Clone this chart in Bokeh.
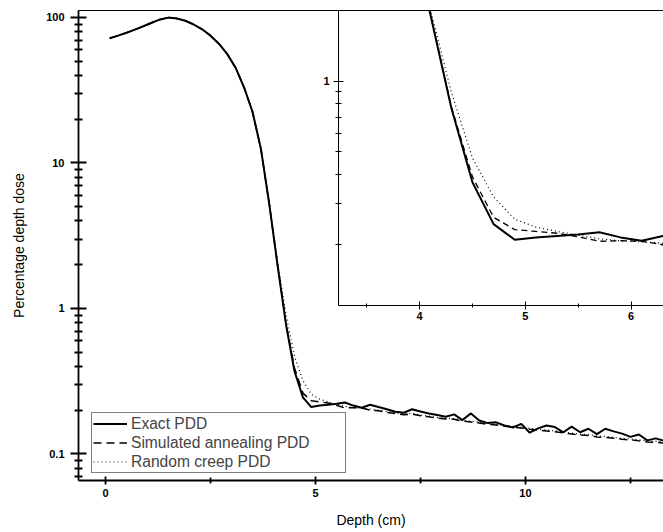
from bokeh.plotting import figure
from bokeh.models import FixedTicker, LinearAxis, Legend, LegendItem, Range1d
from bokeh.layouts import column
from bokeh.embed import file_html
from bokeh.resources import INLINE

# ---------------- data ----------------
depth = [0.1, 0.3, 0.5, 0.7, 0.9, 1.1, 1.3, 1.5, 1.7, 1.9,
         2.1, 2.3, 2.5, 2.7, 2.9, 3.1, 3.3, 3.5, 3.7, 3.9,
         4.1, 4.3, 4.5, 4.7, 4.9, 5.1, 5.3, 5.5, 5.7, 5.9,
         6.1, 6.3, 6.5, 6.7, 6.9, 7.1, 7.3, 7.5, 7.7, 7.9,
         8.1, 8.3, 8.5, 8.7, 8.9, 9.1, 9.3, 9.5, 9.7, 9.9,
         10.1, 10.3, 10.5, 10.7, 10.9, 11.1, 11.3, 11.5, 11.7, 11.9,
         12.1, 12.3, 12.5, 12.7, 12.9, 13.1, 13.3]

exact_pdd = [72, 75, 78.5, 82.5, 87, 92, 97, 99.8, 98.5, 95,
             89.5, 83, 75, 66, 56, 45, 33, 22.5, 12.5, 5.2,
             1.95, 0.77, 0.37, 0.245, 0.21, 0.215, 0.218, 0.221, 0.226, 0.215,
             0.208, 0.218, 0.21, 0.203, 0.195, 0.192, 0.203, 0.196, 0.19, 0.185,
             0.18, 0.187, 0.171, 0.19, 0.17, 0.163, 0.165, 0.157, 0.152, 0.161,
             0.14, 0.15, 0.157, 0.153, 0.141, 0.154, 0.141, 0.149, 0.137, 0.149,
             0.143, 0.138, 0.131, 0.136, 0.124, 0.128, 0.123]

annealing_pdd = [72, 75, 78.5, 82.5, 87, 92, 97, 99.8, 98.5, 95,
                 89.5, 83, 75, 66, 56, 45, 33, 22.5, 12.5, 5.2,
                 1.97, 0.78, 0.39, 0.262, 0.232, 0.228, 0.224, 0.216, 0.207, 0.208,
                 0.207, 0.2, 0.198, 0.193, 0.19, 0.186, 0.188, 0.183, 0.18, 0.176,
                 0.174, 0.173, 0.168, 0.166, 0.163, 0.16, 0.158, 0.155, 0.153, 0.151,
                 0.148, 0.146, 0.144, 0.142, 0.14, 0.137, 0.135, 0.134, 0.131, 0.13,
                 0.128, 0.126, 0.125, 0.123, 0.121, 0.12, 0.119]

creep_pdd = [72, 75, 78.5, 82.5, 87, 92, 97, 99.8, 98.5, 95,
             89.5, 83, 75, 66, 56, 45, 33, 22.5, 12.8, 5.4,
             2.05, 0.9, 0.47, 0.32, 0.257, 0.238, 0.228, 0.22, 0.212, 0.208,
             0.206, 0.203, 0.2, 0.196, 0.192, 0.189, 0.19, 0.185, 0.182, 0.178,
             0.176, 0.175, 0.17, 0.168, 0.165, 0.162, 0.16, 0.157, 0.155, 0.153,
             0.15, 0.148, 0.146, 0.144, 0.142, 0.139, 0.137, 0.136, 0.133, 0.132,
             0.13, 0.128, 0.127, 0.125, 0.123, 0.122, 0.121]

main_x_ticks = [0, 5, 10]
main_x_minor = [2.5, 7.5, 12.5]
main_y_ticks = [0.1, 1, 10, 100]
main_y_labels = ["0.1", "1", "10", "100"]
main_y_minor = [0.07, 0.08, 0.09, 0.2, 0.3, 0.4, 0.5, 0.6, 0.7, 0.8, 0.9,
                2, 3, 4, 5, 6, 7, 8, 9, 20, 30, 40, 50, 60, 70, 80, 90]
inset_x_ticks = [4, 5, 6]
inset_x_minor = [3.5, 4.5, 5.5]
inset_y_ticks = [1]
inset_y_minor = [0.2, 0.3, 0.4, 0.5, 0.6, 0.7, 0.8, 0.9, 2]

series_labels = ["Exact PDD", "Simulated annealing PDD", "Random creep PDD"]

FONT = "Liberation Sans"


def style_axis(ax, tick_in, tick_out, minor_in, minor_out, width):
    ax.axis_line_color = "black"
    ax.axis_line_width = width
    ax.major_tick_line_color = "black"
    ax.minor_tick_line_color = "black"
    ax.major_tick_line_width = width
    ax.minor_tick_line_width = width
    ax.major_tick_in = tick_in
    ax.major_tick_out = tick_out
    ax.minor_tick_in = minor_in
    ax.minor_tick_out = minor_out
    ax.major_label_text_font = FONT
    ax.major_label_text_font_style = "bold"
    ax.major_label_text_font_size = "11px"
    ax.major_label_text_color = "black"
    ax.axis_label_text_font = FONT
    ax.axis_label_text_font_style = "normal"
    ax.axis_label_text_font_size = "14px"
    ax.axis_label_text_color = "black"


def add_top_line(fig, width):
    top = LinearAxis(ticker=FixedTicker(ticks=[]), major_tick_out=0, major_tick_in=0,
                     minor_tick_out=0, minor_tick_in=0,
                     major_label_text_font_size="0px", axis_line_width=width,
                     axis_line_color="black")
    fig.add_layout(top, "above")


# ---------------- main plot ----------------
p = figure(width=655, height=524, title=None,
           x_range=Range1d(-0.643, 13.286), y_range=Range1d(0.0657, 111.7),
           y_axis_type="log", output_backend="svg", toolbar_location=None,
           min_border_left=70, min_border_right=0, min_border_top=2, min_border_bottom=52,
           margin=(8, 0, 0, 8))
p.xgrid.visible = False
p.ygrid.visible = False
p.outline_line_color = None
p.background_fill_color = "white"
p.border_fill_color = "white"

r1 = p.line(depth, exact_pdd, line_color="black", line_width=2)
r2 = p.line(depth, annealing_pdd, line_color="black", line_width=1.5, line_dash="8 5")
r3 = p.line(depth, creep_pdd, line_color="black", line_width=1.2, line_dash="1 3")

p.xaxis.ticker = FixedTicker(ticks=main_x_ticks, minor_ticks=main_x_minor)
p.yaxis.ticker = FixedTicker(ticks=main_y_ticks, minor_ticks=main_y_minor)
p.yaxis.major_label_overrides = {v: s for v, s in zip(main_y_ticks, main_y_labels)}
p.xaxis.axis_label = "Depth (cm)"
p.yaxis.axis_label = "Percentage depth dose"
style_axis(p.xaxis[0], 4, 4, 3, 3, 1.8)
style_axis(p.yaxis[0], 8, 8, 4, 4, 1.8)
p.xaxis.major_label_standoff = 4
p.yaxis.major_label_standoff = 6
p.xaxis.axis_label_standoff = 12
p.yaxis.axis_label_standoff = 16
add_top_line(p, 1)

legend = Legend(items=[LegendItem(label=series_labels[0], renderers=[r1]),
                       LegendItem(label=series_labels[1], renderers=[r2]),
                       LegendItem(label=series_labels[2], renderers=[r3])],
                location=(13, 7), padding=1, spacing=0, margin=0,
                glyph_width=34, glyph_height=19, label_height=19,
                label_standoff=4, label_width=213,
                label_text_font=FONT, label_text_font_size="15.6px",
                border_line_color="black", border_line_width=1,
                background_fill_color="white", background_fill_alpha=1)
p.add_layout(legend, "center")

# ---------------- inset ----------------
q = figure(width=395, height=319, title=None,
           x_range=Range1d(3.234, 6.306), y_range=Range1d(0.110, 2.005),
           y_axis_type="log", output_backend="svg", toolbar_location=None,
           min_border_left=70, min_border_right=0, min_border_top=2, min_border_bottom=22,
           margin=(-524, 0, 205, 268))
q.xgrid.visible = False
q.ygrid.visible = False
q.outline_line_color = None
q.background_fill_color = "white"
q.border_fill_color = None

q.line(depth, exact_pdd, line_color="black", line_width=2)
q.line(depth, annealing_pdd, line_color="black", line_width=1.3, line_dash="6 4")
q.line(depth, creep_pdd, line_color="black", line_width=1.2, line_dash="1 3")

q.xaxis.ticker = FixedTicker(ticks=inset_x_ticks, minor_ticks=inset_x_minor)
q.yaxis.ticker = FixedTicker(ticks=inset_y_ticks, minor_ticks=inset_y_minor)
q.yaxis.major_label_overrides = {1: "1"}
style_axis(q.xaxis[0], 4, 4, 2, 2, 1)
style_axis(q.yaxis[0], 5, 5, 3, 3, 1)
q.xaxis.major_label_standoff = 2
q.yaxis.major_label_standoff = 4
add_top_line(q, 1)

layout = column(p, q, spacing=0)
open("out.html", "w").write(file_html(layout, INLINE))
